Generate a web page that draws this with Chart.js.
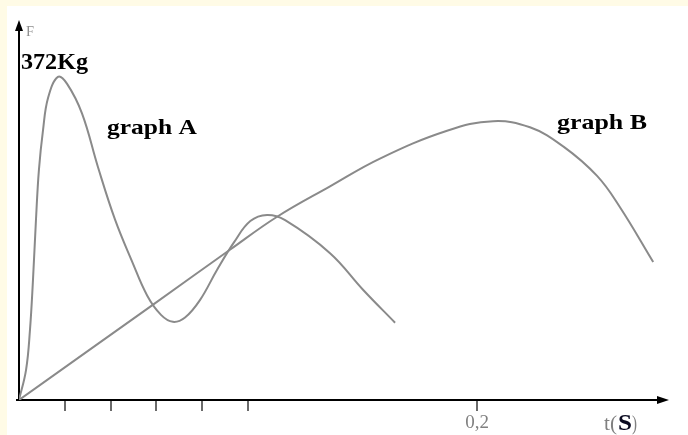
<!DOCTYPE html>
<html>
<head>
<meta charset="utf-8">
<script src="https://cdn.jsdelivr.net/npm/chart.js@4"></script>
<style>
html,body{margin:0;padding:0;background:#fffbe6;}
canvas{display:block;}
</style>
</head>
<body>
<canvas id="forceChart" width="688" height="435"></canvas>
<script>
/* DATA */

// graph A : time (s) / force (Kg)
const timeA=[0,0.0031,0.0048,0.0061,0.0074,0.0087,0.0105,0.0127,0.0170,0.0210,0.0275,0.0345,0.0419,0.0493,0.0560,0.0620,0.0672,0.0725,0.0790,0.0865,0.0940,0.1010,0.1083,0.1162,0.1358,0.1502,0.1642];
const forceA=[0,35,81,138,207,265,311,348,372,364,330,268,208,160,120,98,90,95,115,150,182,206,213,207,169,127,89];

// graph B
const timeB=[0,0.0581,0.0921,0.1127,0.1358,0.1576,0.1869,0.2070,0.2231,0.2376,0.2524,0.2624,0.2769];
const forceB=[0,109,173,211,246,278,310,321,314,292,258,222,159];

// x axis ticks
const tickValues=[0.02,0.04,0.06,0.08,0.1,0.2];
const tickLabels=["","","","","","0,2"];


/* HELPERS */

const serif='"Liberation Serif","Times New Roman",serif';

function stretchText(c,str,x,y,w){
const m=c.measureText(str).width;
c.save();
c.translate(x,y);
c.scale(w/m,1);
c.fillText(str,0,0);
c.restore();
}

const decor={
id:"decor",
beforeDraw(chart){
const c=chart.ctx;
c.save();
c.fillStyle="#fffbe6";
c.fillRect(0,0,chart.width,chart.height);
c.fillStyle="#ffffff";
c.fillRect(7,6,chart.width-7,chart.height-6);
c.restore();
},
afterDraw(chart){
const c=chart.ctx;
const x=chart.scales.x, y=chart.scales.y;
const ox=x.getPixelForValue(0), oy=y.getPixelForValue(0);
const xe=x.getPixelForValue(x.max), ye=y.getPixelForValue(y.max);

c.save();
c.fillStyle="#000";
c.strokeStyle="#000";
c.lineWidth=2;

// small overhang left of origin
c.beginPath(); c.moveTo(ox-3,oy); c.lineTo(ox,oy); c.stroke();

// arrows
c.beginPath(); c.moveTo(xe+11,oy); c.lineTo(xe-1,oy-4); c.lineTo(xe-1,oy+4); c.closePath(); c.fill();
c.beginPath(); c.moveTo(ox,ye-10); c.lineTo(ox-4,ye+1); c.lineTo(ox+4,ye+1); c.closePath(); c.fill();

// texts
c.textBaseline="alphabetic";
c.textAlign="left";

c.fillStyle="#909090";
c.font="15px "+serif;
stretchText(c,"F",26,36,8);

c.fillStyle="#000";
c.font="bold 23px "+serif;
stretchText(c,"372Kg",21,69,67);

c.font="bold 21px "+serif;
stretchText(c,"graph A",107,134,90);
stretchText(c,"graph B",557,129,90);

c.fillStyle="#808080";
c.font="20px "+serif;
stretchText(c,"t(",604,430,13);
stretchText(c,")",632,430,5);
c.fillStyle="#0a0a20";
c.font="bold 23px "+serif;
stretchText(c,"S",618,430,14);

c.restore();
}
};


/* CHART */

new Chart(document.getElementById("forceChart"),{

type:"line",

data:{
datasets:[
{
label:"graph A",
data:timeA.map((t,i)=>({x:t,y:forceA[i]})),
borderColor:"#8a8a8a",
borderWidth:2,
pointRadius:0,
tension:0.4
},
{
label:"graph B",
data:timeB.map((t,i)=>({x:t,y:forceB[i]})),
borderColor:"#8a8a8a",
borderWidth:2,
pointRadius:0,
tension:0.4
}
]
},

options:{
responsive:false,
animation:false,
devicePixelRatio:1,
layout:{padding:{top:30,right:30,left:0,bottom:0}},
plugins:{legend:{display:false},tooltip:{enabled:false}},
scales:{
x:{
type:"linear",
min:0,
max:0.279,
afterBuildTicks:s=>{s.ticks=tickValues.map(v=>({value:v}));},
afterFit:s=>{s.height=35;},
ticks:{
callback:(v,i)=>tickLabels[i],
autoSkip:false,
maxRotation:0,
color:"#808080",
padding:1,
font:{family:serif,size:19}
},
grid:{drawOnChartArea:false,drawTicks:true,tickLength:11,color:"#6a6a6a",lineWidth:2},
border:{display:true,color:"#000",width:2}
},
y:{
type:"linear",
min:0,
max:426,
afterFit:s=>{s.width=19;},
ticks:{display:false},
grid:{display:false},
border:{display:true,color:"#000",width:2}
}
}
},

plugins:[decor]

});
</script>
</body>
</html>
